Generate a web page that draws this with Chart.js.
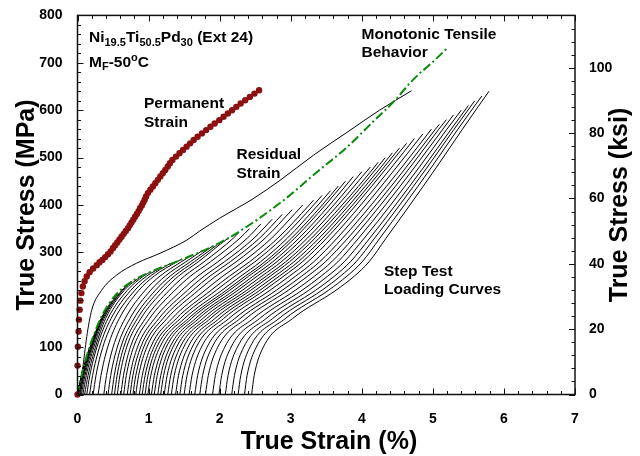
<!DOCTYPE html>
<html><head><meta charset="utf-8">
<style>html,body{margin:0;padding:0;background:#fff}#wrap{width:640px;height:456px}</style>
<script src="https://cdn.jsdelivr.net/npm/chart.js"></script>
</head><body><div id="wrap"><canvas id="c" width="640" height="456"></canvas></div>
<script>
// ---------- data ----------
const xTicks = [0, 1, 2, 3, 4, 5, 6, 7];
const yTicksMPa = [0, 100, 200, 300, 400, 500, 600, 700, 800];
const yTicksKsi = [0, 20, 40, 60, 80, 100];
const MPA_PER_KSI = 6.894757;

// Permanent strain (dots)
const permStrain = [0,0,0.005,0.015,0.02,0.03,0.04,0.055,0.075,0.10,0.13,0.17,0.22,0.27,0.31,0.35,0.39,0.43,0.465,0.50,0.53,0.56,0.59,0.62,0.65,0.68,0.71,0.735,0.76,0.785,0.81,0.835,0.86,0.88,0.905,0.925,0.945,0.965,0.99,1.025,1.06,1.095,1.13,1.165,1.20,1.235,1.27,1.30,1.335,1.385,1.435,1.485,1.535,1.585,1.635,1.69,1.75,1.81,1.87,1.93,1.995,2.055,2.115,2.175,2.235,2.295,2.36,2.425,2.49,2.555];
const permStress = [0,61,101,133,158,179,198,214,228,239,249,258,266,273,279,284,290,296,302,309,315,321,327,333,339,345,351,357,363,369,375,381,387,393,399,405,411,418,425,432,439,446,453,460,467,474,481,488,495,502,509,516,523,530,537,544,551,558,565,572,579,586,593,600,607,614,621,628,635,642];

// Monotonic tensile behaviour (green dash-dot)
const monoStrain = [0,0.05,0.10,0.22,0.36,0.55,0.78,1.05,1.45,1.95,2.30,2.90,3.35,3.80,4.16,4.45,4.72,5.03,5.21];
const monoStress = [0,35,66,122,171,212,240,260,284,316,346,410,467,523,576,618,664,706,732];

// Residual strain (thin black line)
const residStrain = [0,0.07,0.13,0.20,0.34,0.55,0.83,1.16,1.54,1.72,2.00,2.47,2.85,3.32,3.79,4.25,4.70];
const residStress = [0,52,122,178,220,252,277,298,326,345,372,413,452,505,553,600,641];

// Step test loading curves: strain at these stress levels (below each peak), then the peak point
const stepLevels = [0,40,100,160,220,250,280,330,400,480,560];
const stepPeakStress = [61,101,133,158,179,198,214,227,239,250,259,268,277,286,295,304,313,322,331,340,350,360,370,380,390,400,410,420,430,440,450,460,470,480,490,500,510,520,530,540,550,560,570,580,590,600,610,620,630,640];
const stepPeakStrain = [0.09,0.18,0.25,0.32,0.40,0.48,0.57,0.67,0.77,0.90,1.03,1.18,1.31,1.47,1.62,1.76,1.90,2.02,2.13,2.26,2.42,2.58,2.74,2.88,3.02,3.17,3.32,3.44,3.56,3.67,3.77,3.88,4.00,4.12,4.23,4.33,4.43,4.53,4.63,4.74,4.86,4.98,5.09,5.19,5.29,5.40,5.50,5.59,5.69,5.79];
const stepStrainAtLevels = [
[0,0.055],
[0,0.055,0.175],
[0.005,0.059,0.177],
[0.015,0.067,0.182],
[0.02,0.072,0.185,0.333],
[0.03,0.081,0.192,0.338],
[0.04,0.09,0.20,0.346],
[0.055,0.105,0.212,0.357,0.625],
[0.075,0.124,0.23,0.373,0.638],
[0.10,0.148,0.252,0.395,0.658],
[0.13,0.173,0.273,0.428,0.702,0.93],
[0.17,0.212,0.31,0.471,0.751,0.974],
[0.22,0.26,0.356,0.523,0.808,1.025],
[0.29,0.33,0.425,0.587,0.864,1.079,1.397],
[0.37,0.408,0.501,0.669,0.953,1.162,1.46],
[0.43,0.467,0.56,0.736,1.029,1.236,1.524],
[0.48,0.517,0.61,0.794,1.097,1.305,1.587],
[0.52,0.557,0.651,0.842,1.155,1.364,1.643],
[0.56,0.596,0.692,0.89,1.214,1.423,1.699,2.12],
[0.61,0.647,0.744,0.954,1.293,1.506,1.78,2.194],
[0.65,0.687,0.789,1.012,1.371,1.592,1.87,2.286],
[0.70,0.738,0.844,1.083,1.467,1.695,1.974,2.39],
[0.74,0.779,0.889,1.143,1.548,1.784,2.067,2.484],
[0.78,0.82,0.932,1.20,1.624,1.865,2.148,2.562],
[0.82,0.86,0.976,1.258,1.702,1.948,2.232,2.641],
[0.87,0.911,1.03,1.328,1.795,2.047,2.328,2.731],
[0.91,0.951,1.074,1.389,1.88,2.139,2.421,2.819,3.261],
[0.95,0.991,1.116,1.445,1.953,2.216,2.495,2.884,3.323],
[0.99,1.031,1.159,1.503,2.033,2.30,2.575,2.953,3.386],
[1.04,1.081,1.21,1.558,2.095,2.363,2.637,3.012,3.445],
[1.08,1.121,1.25,1.602,2.142,2.411,2.684,3.057,3.488],
[1.13,1.171,1.301,1.657,2.204,2.474,2.746,3.117,3.547],
[1.17,1.211,1.343,1.704,2.258,2.531,2.804,3.174,3.607],
[1.22,1.261,1.394,1.76,2.32,2.595,2.867,3.235,3.667],
[1.27,1.311,1.445,1.815,2.382,2.658,2.929,3.293,3.725,4.178],
[1.32,1.361,1.495,1.867,2.438,2.714,2.982,3.343,3.772,4.223],
[1.38,1.421,1.555,1.93,2.503,2.779,3.045,3.40,3.824,4.272],
[1.44,1.481,1.614,1.991,2.567,2.841,3.105,3.453,3.872,4.315],
[1.50,1.541,1.673,2.053,2.63,2.904,3.164,3.506,3.92,4.36],
[1.57,1.611,1.744,2.127,2.71,2.984,3.24,3.576,3.986,4.423],
[1.65,1.69,1.823,2.21,2.798,3.071,3.324,3.653,4.058,4.491],
[1.72,1.76,1.894,2.286,2.882,3.156,3.407,3.731,4.133,4.565],
[1.80,1.84,1.974,2.369,2.967,3.242,3.488,3.804,4.20,4.627,5.037],
[1.90,1.939,2.072,2.468,3.066,3.337,3.577,3.879,4.265,4.683,5.085],
[1.99,2.028,2.161,2.559,3.16,3.43,3.663,3.956,4.334,4.745,5.141],
[2.08,2.118,2.25,2.651,3.255,3.523,3.752,4.035,4.406,4.81,5.199],
[2.17,2.208,2.339,2.743,3.35,3.617,3.839,4.113,4.475,4.873,5.258],
[2.26,2.297,2.427,2.832,3.439,3.702,3.919,4.181,4.534,4.923,5.30],
[2.35,2.386,2.516,2.922,3.532,3.793,4.005,4.255,4.60,4.983,5.353],
[2.45,2.486,2.615,3.024,3.637,3.897,4.102,4.342,4.678,5.053,5.417]
];

// ---------- build datasets ----------
const FONT = '"Liberation Sans", Arial, Helvetica, sans-serif';
const pairs = (xs, ys) => xs.map((x, i) => ({x: x, y: ys[i]}));
const datasets = [];
datasets.push({label: 'Permanent Strain', data: pairs(permStrain, permStress), showLine: false,
  pointRadius: 3.2, pointBackgroundColor: '#8b1010', pointBorderColor: '#8b1010', pointBorderWidth: 0, clip: false});
datasets.push({label: 'Monotonic Tensile Behavior', data: pairs(monoStrain, monoStress), showLine: true,
  borderColor: '#0a8a0a', borderWidth: 2, borderDash: [9, 3, 2, 3], pointRadius: 0, cubicInterpolationMode: 'monotone'});
datasets.push({label: 'Residual Strain', data: pairs(residStrain, residStress), showLine: true,
  borderColor: '#000', borderWidth: 1, pointRadius: 0, cubicInterpolationMode: 'monotone'});
stepPeakStress.forEach((peak, i) => {
  const pts = stepStrainAtLevels[i].map((x, j) => ({x: x, y: stepLevels[j]}));
  pts.push({x: stepPeakStrain[i], y: peak});
  datasets.push({label: 'Step ' + (i + 1), data: pts, showLine: true, borderColor: '#000',
    borderWidth: 1, pointRadius: 0, cubicInterpolationMode: 'monotone'});
});

const tickFont = {family: FONT, size: 14, weight: 'bold'};

const frame = {
  id: 'frame',
  afterDraw(chart) {
    const ctx = chart.ctx, a = chart.chartArea;
    const xs = chart.scales.x, yl = chart.scales.y, yr = chart.scales.y2;
    ctx.save();
    ctx.strokeStyle = '#111';
    ctx.lineWidth = 1;
    ctx.beginPath();
    for (let k = 0; k <= 35; k++) {
      const len = k % 5 === 0 ? 6 : 3.5;
      const px = Math.round(xs.getPixelForValue(k / 5)) + 0.5;
      ctx.moveTo(px, a.bottom); ctx.lineTo(px, a.bottom - len);
      ctx.moveTo(px, a.top); ctx.lineTo(px, a.top + len);
    }
    for (let k = 0; k <= 40; k++) {
      const len = k % 5 === 0 ? 6 : 3.5;
      const py = Math.round(yl.getPixelForValue(k * 20)) + 0.5;
      ctx.moveTo(a.left, py); ctx.lineTo(a.left + len, py);
    }
    for (let k = 0; k <= 29; k++) {
      const len = k % 5 === 0 ? 6 : 3.5;
      const py = Math.round(yr.getPixelForValue(k * 4)) + 0.5;
      ctx.moveTo(a.right, py); ctx.lineTo(a.right - len, py);
    }
    ctx.stroke();
    ctx.lineWidth = 1.5;
    ctx.strokeRect(a.left, a.top, a.right - a.left, a.bottom - a.top);

    ctx.fillStyle = '#000';
    ctx.font = 'bold 25px ' + FONT;
    ctx.textAlign = 'center';
    ctx.textBaseline = 'alphabetic';
    ctx.fillText('True Strain (%)', 329, 449);
    ctx.save(); ctx.translate(34, 205); ctx.rotate(-Math.PI / 2);
    ctx.fillText('True Stress (MPa)', 0, 0); ctx.restore();
    ctx.save(); ctx.translate(627, 205); ctx.rotate(-Math.PI / 2);
    ctx.fillText('True Stress (ksi)', 0, 0); ctx.restore();

    ctx.textAlign = 'left';
    const rich = (x, y, parts) => {
      let cx = x;
      parts.forEach(p => {
        ctx.font = 'bold ' + p[1] + 'px ' + FONT;
        ctx.fillText(p[0], cx, y + p[2]);
        cx += ctx.measureText(p[0]).width;
      });
    };
    rich(89, 42, [['Ni', 15.5, 0], ['19.5', 11, 3.5], ['Ti', 15.5, 0], ['50.5', 11, 3.5], ['Pd', 15.5, 0], ['30', 11, 3.5], [' (Ext 24)', 15.5, 0]]);
    rich(89, 66.5, [['M', 15.5, 0], ['F', 11, 3.5], ['-50', 15.5, 0], ['o', 11, -5.5], ['C', 15.5, 0]]);
    ctx.font = 'bold 15.5px ' + FONT;
    ctx.fillText('Permanent', 144, 108); ctx.fillText('Strain', 144, 126.5);
    ctx.fillText('Residual', 236.5, 159); ctx.fillText('Strain', 236.5, 178);
    ctx.fillText('Monotonic Tensile', 361.5, 39); ctx.fillText('Behavior', 361.5, 56.5);
    ctx.fillText('Step Test', 384, 276); ctx.fillText('Loading Curves', 384, 293.5);
    ctx.restore();
  }
};

new Chart(document.getElementById('c'), {
  type: 'scatter',
  data: {datasets: datasets},
  options: {
    responsive: false, animation: false, devicePixelRatio: 1, events: [],
    layout: {padding: {top: 15, left: 0, right: 0, bottom: 0}},
    plugins: {legend: {display: false}, tooltip: {enabled: false}},
    scales: {
      x: {type: 'linear', position: 'bottom', min: 0, max: 7,
        ticks: {stepSize: 1, autoSkip: false, includeBounds: false, font: tickFont, color: '#000', padding: 8,
          callback: v => (xTicks.includes(v) ? String(v) : '')},
        grid: {display: false}, border: {display: false},
        afterFit: s => { s.height = 61.5; }},
      y: {type: 'linear', position: 'left', min: 0, max: 800,
        ticks: {stepSize: 100, autoSkip: false, includeBounds: false, font: tickFont, color: '#000', padding: 7,
          callback: v => (yTicksMPa.includes(v) ? String(v) : '')},
        grid: {display: false}, border: {display: false},
        afterFit: s => { s.width = 77.5; }},
      y2: {type: 'linear', position: 'right', min: 0, max: 800 / MPA_PER_KSI,
        ticks: {stepSize: 20, autoSkip: false, includeBounds: false, font: tickFont, color: '#000', padding: 6,
          callback: v => (yTicksKsi.includes(v) ? String(v) : '')},
        grid: {display: false}, border: {display: false},
        afterFit: s => { s.width = 65; }}
    }
  },
  plugins: [frame]
});
</script>
</body></html>
